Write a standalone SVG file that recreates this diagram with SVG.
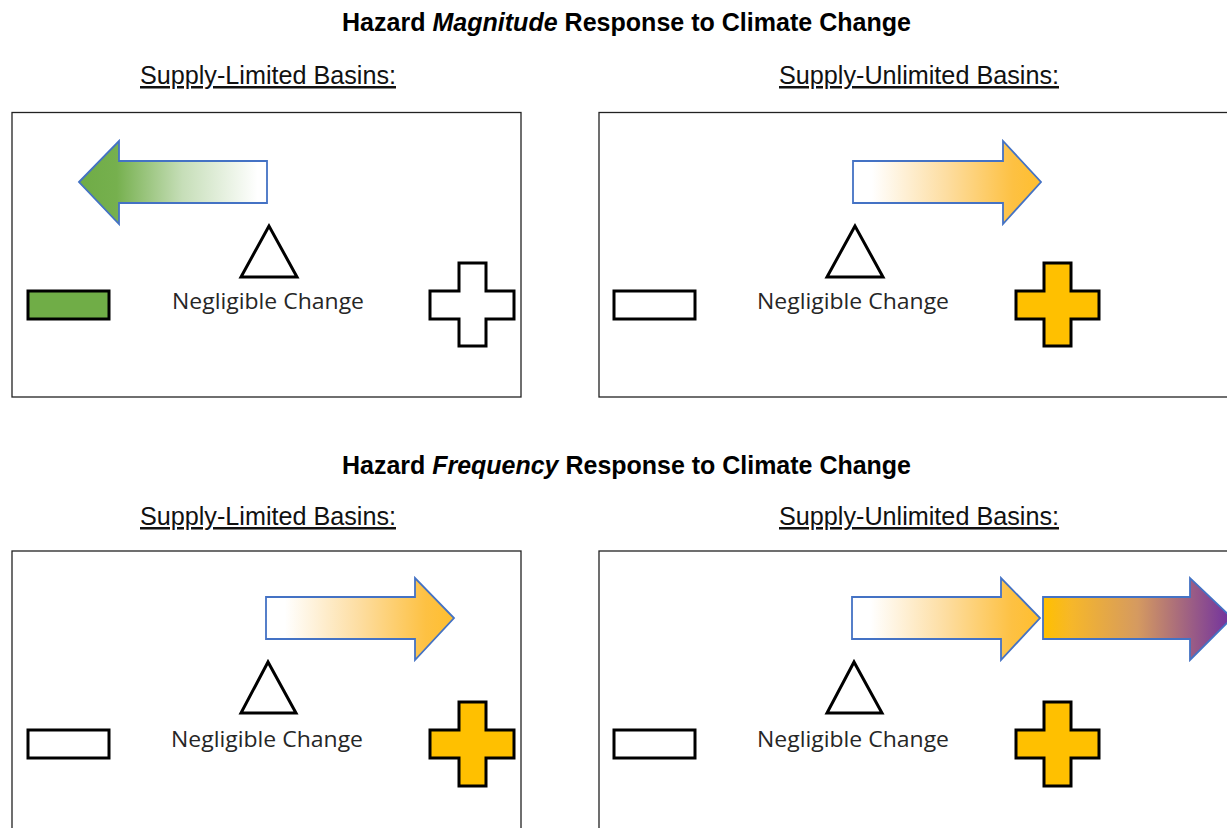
<svg xmlns="http://www.w3.org/2000/svg" width="1227" height="828" viewBox="0 0 1227 828">
  <style>
    .title { font-family: "Liberation Sans", Arial, sans-serif; font-size: 25px; font-weight: bold; fill: #000; }
    .sub { font-family: "Liberation Sans", Arial, sans-serif; font-size: 25px; fill: #111; text-decoration: underline; }
    .label { font-family: "Open Sans", "Noto Sans", sans-serif; font-size: 21px; fill: #262626; }
    .panel { fill: #fff; stroke: #222; stroke-width: 1.3; }
    .sym { stroke: #000; stroke-width: 3; stroke-linejoin: miter; }
    .arrow { stroke: #4472C4; stroke-width: 1.8; stroke-linejoin: miter; }
  </style>
  <defs>
    <linearGradient id="gGreen" x1="0" y1="0" x2="1" y2="0">
      <stop offset="0" stop-color="#6FAC46"/>
      <stop offset="0.2" stop-color="#76B04E"/>
      <stop offset="0.55" stop-color="#C6DEB8"/>
      <stop offset="0.95" stop-color="#FFFFFF"/>
      <stop offset="1" stop-color="#FFFFFF"/>
    </linearGradient>
    <linearGradient id="gOrange" x1="0" y1="0" x2="1" y2="0">
      <stop offset="0" stop-color="#FFFFFF"/>
      <stop offset="0.1" stop-color="#FFFFFF"/>
      <stop offset="0.5" stop-color="#FDDDA0"/>
      <stop offset="0.85" stop-color="#FDC143"/>
      <stop offset="1" stop-color="#FFBE2E"/>
    </linearGradient>
    <linearGradient id="gPurple" x1="0" y1="0" x2="1" y2="0">
      <stop offset="0" stop-color="#FFC000"/>
      <stop offset="0.15" stop-color="#F6B72A"/>
      <stop offset="0.5" stop-color="#D59A60"/>
      <stop offset="1" stop-color="#7030A0"/>
    </linearGradient>
  </defs>

  <!-- Section titles -->
  <g id="titles">
    <text class="title" x="342" y="31" textLength="569" lengthAdjust="spacingAndGlyphs">Hazard <tspan font-style="italic">Magnitude</tspan> Response to Climate Change</text>
    <text class="title" x="342" y="474" textLength="569" lengthAdjust="spacingAndGlyphs">Hazard <tspan font-style="italic">Frequency</tspan> Response to Climate Change</text>
    <text class="sub" x="140" y="84" textLength="256" lengthAdjust="spacingAndGlyphs">Supply-Limited Basins:</text>
    <text class="sub" x="779" y="84" textLength="280" lengthAdjust="spacingAndGlyphs">Supply-Unlimited Basins:</text>
    <text class="sub" x="140" y="525" textLength="256" lengthAdjust="spacingAndGlyphs">Supply-Limited Basins:</text>
    <text class="sub" x="779" y="525" textLength="280" lengthAdjust="spacingAndGlyphs">Supply-Unlimited Basins:</text>
  </g>

  <!-- Magnitude, supply-limited -->
  <g id="mag-limited">
    <rect class="panel" x="12" y="112.5" width="509" height="284.5"/>
    <path class="arrow" fill="url(#gGreen)" d="M79,182 L119,141 L119,161 L267,161 L267,203 L119,203 L119,224 Z"/>
    <polygon class="sym" fill="#fff" points="269,226 241,277 297,277"/>
    <text class="label" x="172" y="309" textLength="192" lengthAdjust="spacingAndGlyphs">Negligible Change</text>
    <rect class="sym" fill="#70AD47" x="28" y="291" width="81" height="28"/>
    <path class="sym" fill="#fff" d="M459,263 H486 V291 H514 V319 H486 V346 H459 V319 H430 V291 H459 Z"/>
  </g>

  <!-- Magnitude, supply-unlimited -->
  <g id="mag-unlimited">
    <rect class="panel" x="599" y="112.5" width="640" height="284.5"/>
    <path class="arrow" fill="url(#gOrange)" d="M853,161 L1003,161 L1003,141 L1041,182 L1003,224 L1003,203 L853,203 Z"/>
    <polygon class="sym" fill="#fff" points="855,226 827,277 883,277"/>
    <text class="label" x="757" y="309" textLength="192" lengthAdjust="spacingAndGlyphs">Negligible Change</text>
    <rect class="sym" fill="#fff" x="614" y="291" width="81" height="28"/>
    <path class="sym" fill="#FFC000" d="M1044,263 H1071 V291 H1099 V319 H1071 V346 H1044 V319 H1016 V291 H1044 Z"/>
  </g>

  <!-- Frequency, supply-limited -->
  <g id="freq-limited">
    <rect class="panel" x="12" y="551" width="509" height="290"/>
    <path class="arrow" fill="url(#gOrange)" d="M266,597 L415,597 L415,578 L454,618 L415,660 L415,639 L266,639 Z"/>
    <polygon class="sym" fill="#fff" points="268,662 241,713 296,713"/>
    <text class="label" x="171" y="747" textLength="192" lengthAdjust="spacingAndGlyphs">Negligible Change</text>
    <rect class="sym" fill="#fff" x="28" y="730" width="81" height="28"/>
    <path class="sym" fill="#FFC000" d="M459,702 H486 V730 H514 V758 H486 V786 H459 V758 H430 V730 H459 Z"/>
  </g>

  <!-- Frequency, supply-unlimited -->
  <g id="freq-unlimited">
    <rect class="panel" x="599" y="551" width="640" height="290"/>
    <path class="arrow" fill="url(#gOrange)" d="M852,597 L1001,597 L1001,578 L1040,618 L1001,660 L1001,639 L852,639 Z"/>
    <path class="arrow" fill="url(#gPurple)" d="M1043,597 L1190,597 L1190,578 L1232,618 L1190,660 L1190,639 L1043,639 Z"/>
    <polygon class="sym" fill="#fff" points="854,662 827,713 882,713"/>
    <text class="label" x="757" y="747" textLength="192" lengthAdjust="spacingAndGlyphs">Negligible Change</text>
    <rect class="sym" fill="#fff" x="614" y="730" width="81" height="28"/>
    <path class="sym" fill="#FFC000" d="M1044,702 H1071 V730 H1099 V758 H1071 V786 H1044 V758 H1016 V730 H1044 Z"/>
  </g>

  <!-- no connectors between nodes -->
  <g id="connectors"/>
</svg>
